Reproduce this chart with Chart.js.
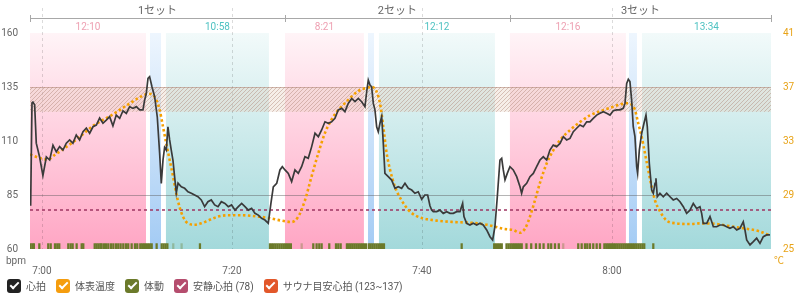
<!DOCTYPE html>
<html>
<head>
<meta charset="utf-8">
<script src="https://cdn.jsdelivr.net/npm/chart.js@4"></script>
<style>
  body { margin: 0; background: #fff; }
  #wrap { position: relative; width: 800px; height: 298px; }
  #legend { position: absolute; left: 7px; top: 278px; display: flex; font: 10px Roboto, "Noto Sans CJK JP", sans-serif; color: #555; }
  #legend .item { display: flex; align-items: center; margin-right: 10px; }
  #legend .box { position: relative; width: 14px; height: 14px; border-radius: 3px; margin-right: 5px; }
  #legend .box::after { content: ''; position: absolute; left: 4.5px; top: 1.5px; width: 3px; height: 7px;
    border: solid #fff; border-width: 0 2px 2px 0; transform: rotate(45deg); }
</style>
</head>
<body>
<div id="wrap">
  <canvas id="chart" width="800" height="298"></canvas>
  <div id="legend"></div>
</div>
<script>
"use strict";

// time axis = minutes from 7:00
const timeMin = -1.26;
const timeMax = 76.74;
const timeTicks = [0, 20, 40, 60];
const timeTickLabels = ['7:00', '7:20', '7:40', '8:00'];

const hrTicks = [60, 85, 110, 135, 160];
const tempTicks = [25, 29, 33, 37, 41];

// heart rate (bpm)
const hrTimes = [-1.19, -1.05, -0.95, -0.77, -0.6, -0.25, 0.1, 0.46, 0.81, 1.16, 1.51, 1.86, 2.21, 2.56, 2.91, 3.26, 3.61, 3.96, 4.32, 4.67,
  5.02, 5.37, 5.72, 6.07, 6.42, 6.77, 7.12, 7.47, 7.82, 8.18, 8.53, 8.88, 9.23, 9.58, 9.93, 10.28, 10.63, 10.81, 10.98, 11.16,
  11.33, 11.58, 11.86, 12.14, 12.39, 12.56, 12.74, 12.91, 13.09, 13.26, 13.44, 13.61, 13.79, 13.96, 14.14, 14.32, 14.67, 15.02, 15.37, 15.72,
  16.07, 16.42, 16.77, 17.12, 17.47, 17.82, 18.18, 18.53, 18.88, 19.26, 19.61, 19.96, 20.32, 20.67, 21.02, 21.37, 21.72, 22.07, 22.42, 22.77,
  23.12, 23.47, 23.82, 24.1, 24.35, 24.71, 25.05, 25.3, 25.58, 25.93, 26.28, 26.63, 26.98, 27.33, 27.68, 28.03, 28.39, 28.74, 29.09, 29.44,
  29.79, 30.14, 30.49, 30.84, 31.19, 31.55, 31.89, 32.24, 32.6, 32.95, 33.3, 33.65, 34, 34.18, 34.35, 34.53, 34.7, 34.88, 35.05, 35.23,
  35.4, 35.58, 35.76, 35.93, 36.1, 36.45, 36.81, 37.16, 37.51, 37.86, 38.21, 38.56, 38.92, 39.26, 39.61, 39.97, 40.3, 40.6, 40.84, 41.02,
  41.19, 41.55, 41.89, 42.24, 42.6, 42.95, 43.3, 43.65, 44, 44.28, 44.42, 44.7, 45.05, 45.4, 45.76, 46.11, 46.45, 46.81, 47.16, 47.44,
  47.68, 47.93, 48.21, 48.39, 48.56, 48.74, 48.98, 49.26, 49.61, 49.97, 50.32, 50.49, 50.67, 51.02, 51.37, 51.72, 52.07, 52.42, 52.77, 53.13,
  53.47, 53.82, 54.18, 54.53, 54.88, 55.23, 55.58, 55.93, 56.28, 56.63, 56.98, 57.34, 57.68, 58.03, 58.39, 58.74, 59.09, 59.44, 59.79, 60.14,
  60.49, 60.84, 61.19, 61.37, 61.55, 61.72, 61.89, 62.07, 62.24, 62.42, 62.6, 62.7, 62.88, 63.13, 63.37, 63.58, 63.72, 63.93, 64.18, 64.35,
  64.53, 64.63, 64.77, 65.05, 65.4, 65.76, 66.11, 66.45, 66.81, 67.16, 67.51, 67.86, 68.21, 68.56, 68.91, 69.26, 69.44, 69.61, 69.97, 70.32,
  70.67, 71.02, 71.37, 71.72, 72.07, 72.42, 72.77, 73.13, 73.47, 73.82, 74, 74.18, 74.53, 74.88, 75.23, 75.58, 75.93, 76.28, 76.63];
const hrValues = [80, 127.6, 128, 126.7, 109, 102.6, 94, 102.6, 101.2, 108, 105, 107.4, 105.8, 109, 110.5, 109, 112.8, 110.5, 114.3, 116,
  113.6, 116.6, 117.4, 120.6, 118.2, 119.7, 121.3, 117, 122, 120.5, 124, 122.8, 125.9, 125.1, 125.9, 124.4, 124.4, 129, 132, 139,
  139.8, 135.1, 130.5, 121, 104, 90.4, 101.2, 107, 105.8, 116.6, 110.5, 105.8, 101, 93.5, 86, 90.5, 88.8, 88.1, 86.5, 85.8,
  85, 84.2, 82.7, 79.6, 81.9, 82.7, 80.4, 79.6, 81.9, 81.1, 79.6, 80.4, 78, 79.6, 81.1, 79.6, 78, 78.8, 76.5, 75.7,
  74.2, 73.4, 71.9, 81.1, 88.8, 90.4, 96.6, 98.1, 96.6, 95, 91.2, 96.6, 95, 98.1, 102.7, 102, 107.4, 113.6, 112, 115.1,
  118.9, 118.2, 118.9, 120.5, 124.4, 125.1, 123.6, 127.4, 129.7, 128.2, 129.7, 128.2, 125.9, 132.8, 138.2, 135.9, 135.1, 127.4, 124.4, 116.6,
  114.3, 118.2, 121.3, 108.9, 95, 93.5, 91.9, 88.1, 88.8, 88.1, 90.4, 88.1, 87.3, 85.8, 86.5, 83, 85, 85, 80, 78,
  77.3, 77.3, 78, 76.5, 77.3, 76.5, 76.5, 77.3, 77.3, 81.1, 75, 71.9, 71.1, 71.9, 71.1, 71.9, 71.1, 68.8, 65.7, 64.2,
  70.3, 84.2, 101.2, 102, 96.6, 92, 95, 98.1, 96.6, 93.5, 88.8, 85.8, 88.8, 90.4, 93.5, 95, 98.1, 101.2, 102.7, 101.2,
  105.8, 108.1, 107.4, 108.9, 112, 110.5, 111.2, 114.3, 115.9, 117.4, 116.6, 118.9, 118.9, 120.5, 122, 122.8, 123.6, 122.8, 122, 124,
  124.4, 124.4, 125.1, 127.4, 136.7, 138.6, 137.5, 129, 116.6, 112, 98.1, 95, 105.8, 113.6, 118.2, 122, 116.6, 99.7, 87.3, 85.8,
  90.4, 92.7, 84.2, 85.8, 84.2, 85.8, 84.2, 82.7, 83.4, 81.9, 79.6, 76.5, 78, 81.1, 78.8, 79.6, 76.5, 71.9, 71.9, 75,
  70.3, 70.3, 71.1, 71.1, 70.3, 69.6, 70.3, 68.8, 69.6, 72.6, 68.8, 64.2, 61.9, 63.4, 65, 62.6, 65.7, 66.5, 66.5];

// skin temperature (°C)
const tempTimes = [-1.26, -0.07, 0.63, 1.33, 2.04, 3.79, 5.54, 7.3, 9.05, 10.46, 11.16, 11.68, 12.04, 12.39, 12.74, 13.09, 13.44, 13.79, 14.14, 14.49,
  14.84, 15.37, 16.07, 16.77, 17.47, 18.53, 19.58, 21.02, 22.77, 23.82, 25.23, 26.28, 26.98, 27.68, 28.39, 29.09, 29.79, 30.49, 31.19, 31.89,
  32.6, 33.3, 34, 34.7, 35.23, 35.58, 35.93, 36.28, 36.63, 37.16, 37.86, 38.56, 39.26, 39.97, 41.55, 43.3, 45.05, 46.81, 48.56, 49.61,
  50.32, 50.84, 51.37, 51.89, 52.42, 53.13, 53.82, 54.53, 55.58, 56.63, 57.68, 58.74, 59.79, 60.84, 61.55, 62.07, 62.42, 62.77, 63.13, 63.47,
  63.82, 64.18, 64.53, 65.05, 65.76, 66.81, 68.21, 69.26, 71.02, 72.77, 74.18, 75.58, 76.63];
const tempValues = [32.0, 31.7, 31.64, 31.96, 32.3, 33.2, 34.2, 34.9, 35.7, 36.3, 36.5, 36.4, 36.04, 35.3, 34.06, 32.8, 31.6, 30.4, 29.1, 28.1,
  27.4, 26.9, 26.8, 26.9, 27.1, 27.4, 27.5, 27.5, 27.4, 27.3, 27.1, 27.0, 27.4, 28.6, 30.4, 32.1, 33.6, 34.6, 35.3, 35.8,
  36.3, 36.7, 36.9, 37.0, 36.65, 35.8, 34.06, 32.1, 30.9, 29.6, 28.6, 27.9, 27.5, 27.3, 27.1, 27.0, 26.95, 26.8, 26.5, 26.4,
  26.2, 26.5, 27.4, 28.6, 29.9, 31.35, 32.3, 33.07, 33.8, 34.4, 34.9, 35.2, 35.45, 35.7, 35.8, 35.7, 35.3, 34.3, 33.3, 32.1,
  30.85, 29.6, 28.6, 27.8, 27.1, 26.9, 26.85, 26.9, 26.85, 26.65, 26.5, 26.3, 26.0];

// body motion events (1 = clear, 0 = faint)
const motionTimes = [-1.2, -1.0, -0.85, -0.28, 0.66, 0.92, 1.37, 1.61, 1.82, 2.77, 3.02, 3.23, 3.65, 4.18, 4.35, 5.55, 5.75, 5.95, 6.15, 6.28,
  6.53, 6.74, 6.98, 7.26, 7.51, 7.79, 8.03, 8.28, 8.56, 8.84, 9.08, 9.44, 9.79, 10.03, 10.35, 10.55, 10.75, 10.95, 11.15, 11.35,
  11.55, 12.07, 12.6, 12.8, 13.0, 13.2, 13.82, 14.7, 16.63, 24.0, 24.2, 24.4, 24.6, 24.8, 25.0, 25.2, 25.4, 25.6, 25.8, 26.0,
  26.2, 27.34, 28.56, 28.91, 29.19, 29.44, 30.24, 30.95, 31.19, 31.44, 32.1, 32.3, 32.5, 32.7, 32.9, 33.1, 33.3, 33.5, 33.7, 33.9,
  34.1, 34.4, 34.6, 34.8, 35.0, 35.2, 35.4, 35.6, 35.8, 36.0, 44.18, 47.6, 47.8, 48.0, 48.2, 48.4, 48.9, 49.1, 49.3, 49.5,
  49.7, 49.9, 50.1, 50.3, 50.5, 51.0, 51.5, 52.0, 52.4, 52.8, 53.3, 53.6, 54.0, 54.4, 54.87, 56.45, 56.81, 57.16, 57.4, 57.68,
  58.03, 58.39, 58.74, 59.2, 59.4, 59.6, 59.8, 60.0, 60.2, 60.4, 60.6, 60.8, 61.0, 61.2, 61.4, 61.6, 61.8, 62.0, 62.2, 62.4,
  62.6, 62.8, 63.0, 63.2, 63.4, 64.35];
const motionLevels = [1, 1, 1, 1, 1, 1, 1, 1, 1, 1, 1, 1, 1, 1, 1, 1, 1, 1, 1, 1,
  1, 1, 1, 1, 1, 1, 1, 1, 1, 1, 1, 1, 1, 1, 1, 1, 1, 1, 1, 1,
  1, 1, 1, 1, 1, 1, 0, 0, 1, 1, 1, 1, 1, 1, 1, 1, 1, 1, 1, 1,
  1, 0, 1, 1, 1, 1, 1, 1, 1, 1, 1, 1, 1, 1, 1, 1, 1, 1, 1, 1,
  1, 1, 1, 1, 1, 1, 1, 1, 1, 1, 1, 1, 1, 1, 1, 1, 1, 1, 1, 1,
  1, 1, 1, 1, 1, 1, 1, 1, 1, 1, 1, 1, 1, 1, 0, 1, 1, 1, 1, 1,
  1, 1, 1, 1, 1, 1, 1, 1, 1, 1, 1, 1, 1, 1, 1, 1, 1, 1, 1, 1,
  1, 1, 1, 1, 1, 1];

const restingHr = 78;
const saunaZone = [123.5, 135];
const refLineHr = 85;

// sets and phases (sauna / water / rest)
const setNames = ['1セット', '2セット', '3セット'];
const setBounds = [-1.26, 25.58, 49.26, 76.74];
const phaseKinds = ['sauna', 'water', 'rest', 'sauna', 'water', 'rest', 'sauna', 'water', 'rest'];
const phaseStarts = [-1.26, 11.37, 13.05, 25.58, 34.32, 35.47, 49.26, 61.79, 63.16];
const phaseEnds = [10.95, 12.53, 23.89, 33.89, 34.95, 47.68, 61.47, 62.63, 76.74];
const phaseLabels = ['12:10', '', '10:58', '8:21', '', '12:12', '12:16', '', '13:34'];

const legendLabels = ['心拍', '体表温度', '体動', '安静心拍 (78)', 'サウナ目安心拍 (123~137)'];
const legendColors = ['#222222', '#f59d0e', '#6b7a2a', '#b54d6e', '#e2572a'];

const FONT = 'Roboto, "Noto Sans CJK JP", sans-serif';
const bandColors = {
  sauna: ['rgb(255,244,247)', 'rgb(255,166,196)'],
  water: ['rgb(238,246,254)', 'rgb(163,203,244)'],
  rest: ['rgb(242,250,250)', 'rgb(163,217,219)']
};
const labelColors = { sauna: '#eea0b2', rest: '#4fc2c2' };

function hatchPattern(ctx) {
  const c = document.createElement('canvas');
  c.width = 4; c.height = 4;
  const p = c.getContext('2d');
  p.fillStyle = 'rgba(230,205,190,0.35)';
  p.fillRect(0, 0, 4, 4);
  p.strokeStyle = 'rgba(170,125,110,0.6)';
  p.lineWidth = 0.7;
  p.beginPath();
  p.moveTo(0, 4); p.lineTo(4, 0);
  p.moveTo(-1, 1); p.lineTo(1, -1);
  p.moveTo(3, 5); p.lineTo(5, 3);
  p.stroke();
  return ctx.createPattern(c, 'repeat');
}

const overlay = {
  id: 'overlay',
  beforeDatasetsDraw(chart) {
    const { ctx, chartArea: a, scales: { x, y } } = chart;
    ctx.save();

    // phase bands
    phaseStarts.forEach((s, i) => {
      const x0 = x.getPixelForValue(s), x1 = x.getPixelForValue(phaseEnds[i]);
      const g = ctx.createLinearGradient(0, a.top, 0, a.bottom);
      g.addColorStop(0, bandColors[phaseKinds[i]][0]);
      g.addColorStop(1, bandColors[phaseKinds[i]][1]);
      ctx.fillStyle = g;
      ctx.fillRect(x0, a.top, x1 - x0, a.bottom - a.top);
    });

    // time grid
    ctx.strokeStyle = 'rgba(0,0,0,0.14)';
    ctx.lineWidth = 1;
    ctx.setLineDash([3, 3]);
    timeTicks.forEach(t => {
      const px = Math.round(x.getPixelForValue(t)) + 0.5;
      ctx.beginPath(); ctx.moveTo(px, 8); ctx.lineTo(px, a.bottom); ctx.stroke();
    });
    ctx.setLineDash([]);

    // sauna target zone
    const zt = y.getPixelForValue(saunaZone[1]), zb = y.getPixelForValue(saunaZone[0]);
    ctx.fillStyle = hatchPattern(ctx);
    ctx.fillRect(a.left, zt, a.right - a.left, zb - zt);
    ctx.strokeStyle = 'rgba(170,125,110,0.5)';
    ctx.beginPath();
    ctx.moveTo(a.left, Math.round(zt) + 0.5); ctx.lineTo(a.right, Math.round(zt) + 0.5);
    ctx.stroke();

    // reference line
    const ry = Math.round(y.getPixelForValue(refLineHr)) + 0.5;
    ctx.strokeStyle = 'rgba(90,90,90,0.45)';
    ctx.beginPath(); ctx.moveTo(a.left, ry); ctx.lineTo(a.right, ry); ctx.stroke();
    ctx.restore();
  },
  afterDraw(chart) {
    const { ctx, chartArea: a, scales: { x } } = chart;
    ctx.save();

    // set brackets
    ctx.strokeStyle = '#a8a8a8';
    ctx.lineWidth = 1;
    ctx.beginPath();
    ctx.moveTo(a.left, 18.5); ctx.lineTo(a.right, 18.5);
    setBounds.forEach(b => {
      const px = Math.round(x.getPixelForValue(b)) + 0.5;
      ctx.moveTo(px, 15); ctx.lineTo(px, 22);
    });
    ctx.stroke();
    ctx.font = '11px ' + FONT;
    ctx.fillStyle = '#666';
    ctx.textAlign = 'center';
    ctx.textBaseline = 'middle';
    setNames.forEach((n, i) => {
      const cx = (x.getPixelForValue(setBounds[i]) + x.getPixelForValue(setBounds[i + 1])) / 2;
      ctx.fillText(n, cx, 11);
    });

    // phase durations
    ctx.font = '10px ' + FONT;
    phaseLabels.forEach((l, i) => {
      if (!l) return;
      ctx.fillStyle = labelColors[phaseKinds[i]];
      const cx = (x.getPixelForValue(phaseStarts[i]) + x.getPixelForValue(phaseEnds[i])) / 2;
      ctx.fillText(l, cx, 27);
    });

    // units
    ctx.fillStyle = '#666';
    ctx.fillText('bpm', 16, 261);
    ctx.fillStyle = '#e8a317';
    ctx.fillText('℃', 779, 261);
    ctx.restore();
  }
};

const hrData = hrTimes.map((t, i) => ({ x: t, y: hrValues[i] }));
const tempData = tempTimes.map((t, i) => ({ x: t, y: tempValues[i] }));
const motionData = motionTimes.map(t => ({ x: t, y: 1 }));
const restData = [{ x: timeMin, y: restingHr }, { x: timeMax, y: restingHr }];

new Chart(document.getElementById('chart'), {
  type: 'line',
  data: {
    datasets: [
      { label: '心拍', data: hrData, borderColor: '#3a3a3a', borderWidth: 1.7, pointRadius: 0, tension: 0, order: 1 },
      { label: '体表温度', data: tempData, yAxisID: 'yT', borderColor: '#f5a000', borderWidth: 2.6, borderDash: [2.5, 2.5],
        pointRadius: 0, cubicInterpolationMode: 'monotone', order: 2 },
      { label: '安静心拍', data: restData, borderColor: '#9e3561', borderWidth: 1.5, borderDash: [3, 3], pointRadius: 0, order: 3 },
      { type: 'bar', label: '体動', data: motionData, yAxisID: 'yM', barThickness: 1.6, order: 4,
        backgroundColor: ctx => motionLevels[ctx.dataIndex] ? '#6b7a2a' : 'rgba(107,122,42,0.35)' }
    ]
  },
  options: {
    responsive: false,
    animation: false,
    devicePixelRatio: 1,
    layout: { padding: { top: 33, left: 0, right: 0, bottom: 19 } },
    plugins: { legend: { display: false }, tooltip: { enabled: false } },
    scales: {
      x: {
        type: 'linear', min: timeMin, max: timeMax, offset: false,
        afterBuildTicks: s => { s.ticks = timeTicks.map(v => ({ value: v })); },
        ticks: { callback: v => timeTickLabels[timeTicks.indexOf(v)], autoSkip: false, maxRotation: 0,
          padding: 8, color: '#666', font: { size: 10, family: FONT } },
        grid: { display: false }, border: { display: false },
        afterFit: s => { s.height = 30; }
      },
      y: {
        position: 'left', min: 60, max: 160,
        afterBuildTicks: s => { s.ticks = hrTicks.map(v => ({ value: v })); },
        ticks: { padding: 4, color: '#666', font: { size: 10, family: FONT } },
        grid: { display: false }, border: { display: false },
        afterFit: s => { s.width = 30; }
      },
      yT: {
        position: 'right', min: 25, max: 41,
        afterBuildTicks: s => { s.ticks = tempTicks.map(v => ({ value: v })); },
        ticks: { padding: 4, color: '#e8a317', font: { size: 10, family: FONT } },
        grid: { display: false }, border: { display: false },
        afterFit: s => { s.width = 29; }
      },
      yM: { display: false, min: 0, max: 40 }
    }
  },
  plugins: [overlay]
});

// legend
const legend = document.getElementById('legend');
legendLabels.forEach((l, i) => {
  const item = document.createElement('div');
  item.className = 'item';
  item.innerHTML = '<span class="box" style="background:' + legendColors[i] + '"></span><span>' + l + '</span>';
  legend.appendChild(item);
});
</script>
</body>
</html>
